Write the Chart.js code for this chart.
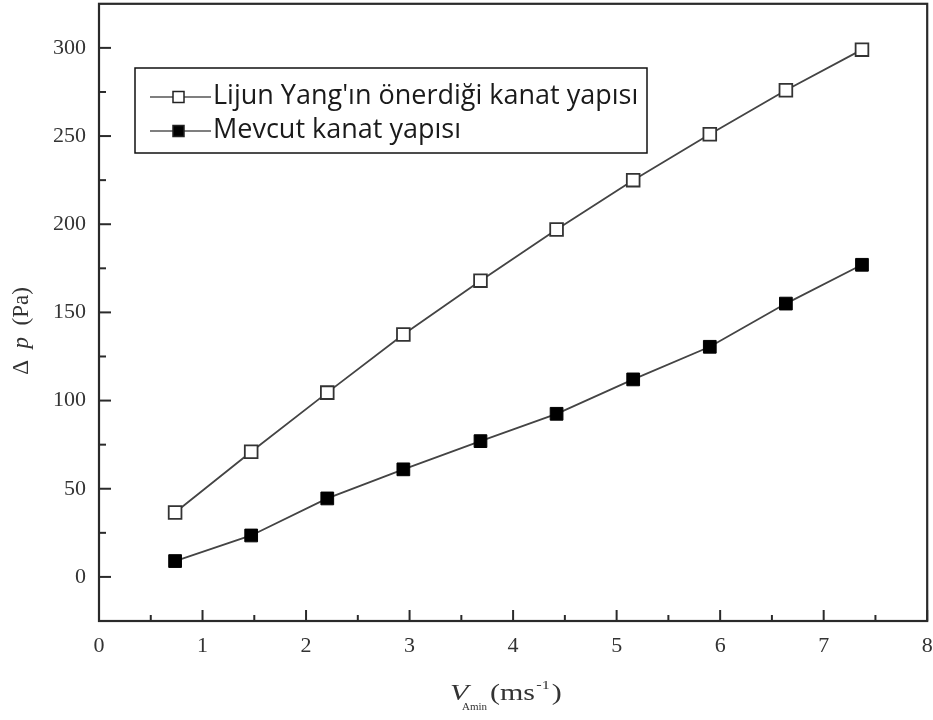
<!DOCTYPE html>
<html>
<head>
<meta charset="utf-8">
<script src="https://cdn.jsdelivr.net/npm/chart.js@4.4.1/dist/chart.umd.min.js"></script>
<style>
  html, body { margin: 0; padding: 0; background: #fff; }
  #wrap { width: 933px; height: 720px; position: relative; overflow: hidden; }
  #chart { position: absolute; left: 0; top: -7px; }
</style>
</head>
<body>
<div id="wrap"><canvas id="chart" width="938" height="727"></canvas></div>
<script>
// data
const velocity = [0.735, 1.47, 2.205, 2.94, 3.685, 4.42, 5.16, 5.9, 6.635, 7.37];
const yangValues = [36.5, 71, 104.5, 137.5, 168, 197, 225, 251, 276, 299];
const currentValues = [9, 23.5, 44.5, 61, 77, 92.5, 112, 130.5, 155, 177];

const xTicks = [0, 1, 2, 3, 4, 5, 6, 7, 8];
const yTicks = [0, 50, 100, 150, 200, 250, 300];

const seriesNames = ["Lijun Yang'ın önerdiği kanat yapısı", "Mevcut kanat yapısı"];

const ink = "#2a2a2a";
const OFF = 7; // canvas is shifted up by this much

function toPoints(xs, ys) {
    return xs.map((x, i) => ({ x: x, y: ys[i] }));
}

// frame, inward ticks, axis titles and the legend box
const decorPlugin = {
    id: "decor",
    afterDraw(chart) {
        const ctx = chart.ctx;
        const a = chart.chartArea;
        const xs = chart.scales.x;
        const ys = chart.scales.y;

        ctx.save();
        ctx.strokeStyle = ink;
        ctx.lineWidth = 2.2;
        ctx.strokeRect(a.left, a.top, a.right - a.left, a.bottom - a.top);

        // x ticks (major + minor halfway)
        ctx.lineWidth = 2;
        xTicks.forEach((v, i) => {
            const px = xs.getPixelForValue(v);
            ctx.beginPath();
            ctx.moveTo(px, a.bottom);
            ctx.lineTo(px, a.bottom - 11);
            ctx.stroke();
            if (i < xTicks.length - 1) {
                const mx = xs.getPixelForValue((v + xTicks[i + 1]) / 2);
                ctx.beginPath();
                ctx.moveTo(mx, a.bottom);
                ctx.lineTo(mx, a.bottom - 6);
                ctx.stroke();
            }
        });

        // y ticks
        const yMinor = [-25].concat(yTicks.map(v => v + 25));
        yTicks.forEach(v => {
            const py = ys.getPixelForValue(v);
            ctx.beginPath();
            ctx.moveTo(a.left, py);
            ctx.lineTo(a.left + 12, py);
            ctx.stroke();
        });
        yMinor.forEach(v => {
            if (v <= ys.min || v >= ys.max) return;
            const py = ys.getPixelForValue(v);
            ctx.beginPath();
            ctx.moveTo(a.left, py);
            ctx.lineTo(a.left + 7, py);
            ctx.stroke();
        });

        // y title: Δ p (Pa)
        ctx.fillStyle = "#333";
        ctx.textBaseline = "middle";
        ctx.save();
        ctx.translate(22, 331 + OFF);
        ctx.rotate(-Math.PI / 2);
        const p1 = "Δ  ";
        const p2 = "p";
        const p3 = "  (Pa)";
        ctx.font = "23px 'Liberation Serif'";
        const w1 = ctx.measureText(p1).width;
        const w3 = ctx.measureText(p3).width;
        ctx.font = "italic 23px 'Liberation Serif'";
        const w2 = ctx.measureText(p2).width;
        let sx = -(w1 + w2 + w3) / 2;
        ctx.textAlign = "left";
        ctx.font = "23px 'Liberation Serif'";
        ctx.fillText(p1, sx, 0);
        ctx.font = "italic 23px 'Liberation Serif'";
        ctx.fillText(p2, sx + w1, 0);
        ctx.font = "23px 'Liberation Serif'";
        ctx.fillText(p3, sx + w1 + w2, 0);
        ctx.restore();

        // x title: V_Amin (ms^-1), the source type is wide so stretch it a bit
        ctx.textAlign = "left";
        ctx.textBaseline = "alphabetic";
        const ty = 700 + OFF;
        const sw = 1.25;
        ctx.save();
        ctx.translate(450, ty);
        ctx.scale(sw, 1);
        ctx.font = "italic 24px 'Liberation Serif'";
        ctx.fillText("V", 0, 0);
        ctx.font = "24px 'Liberation Serif'";
        let lx0 = 32;
        ctx.fillText("(ms", lx0, 0);
        lx0 += ctx.measureText("(ms").width + 1;
        ctx.font = "13px 'Liberation Serif'";
        ctx.fillText("-1", lx0, -11);
        lx0 += ctx.measureText("-1").width + 1.5;
        ctx.font = "24px 'Liberation Serif'";
        ctx.fillText(")", lx0, 0);
        ctx.restore();
        ctx.font = "11px 'Liberation Serif'";
        ctx.fillText("Amin", 462, ty + 10);

        // legend
        const lx = 135, ly = 68 + OFF, lw = 512, lh = 85;
        ctx.fillStyle = "#fff";
        ctx.fillRect(lx, ly, lw, lh);
        ctx.strokeStyle = "#111";
        ctx.lineWidth = 1.5;
        ctx.strokeRect(lx, ly, lw, lh);
        const rows = [ly + 29, ly + 63];
        chart.data.datasets.forEach((ds, i) => {
            const ry = rows[i];
            ctx.strokeStyle = "#555";
            ctx.lineWidth = 1.5;
            ctx.beginPath();
            ctx.moveTo(150, ry);
            ctx.lineTo(211, ry);
            ctx.stroke();
            ctx.fillStyle = ds.pointBackgroundColor;
            ctx.fillRect(173, ry - 5.5, 11, 11);
            ctx.strokeStyle = "#222";
            ctx.lineWidth = 1.5;
            ctx.strokeRect(173, ry - 5.5, 11, 11);
            ctx.fillStyle = "#1a1a1a";
            ctx.font = "27px 'Open Sans'";
            ctx.textAlign = "left";
            ctx.textBaseline = "middle";
            ctx.fillText(ds.label, 213, ry - 1);
        });

        ctx.restore();
    }
};

new Chart(document.getElementById("chart"), {
    type: "scatter",
    data: {
        datasets: [
            {
                label: seriesNames[0],
                data: toPoints(velocity, yangValues),
                showLine: true,
                borderColor: "#444",
                borderWidth: 1.8,
                pointStyle: "rect",
                pointRadius: 9,
                pointBorderWidth: 1.8,
                pointBorderColor: "#333",
                pointBackgroundColor: "#fff"
            },
            {
                label: seriesNames[1],
                data: toPoints(velocity, currentValues),
                showLine: true,
                borderColor: "#444",
                borderWidth: 1.8,
                pointStyle: "rect",
                pointRadius: 9,
                pointBorderWidth: 1,
                pointBorderColor: "#000",
                pointBackgroundColor: "#000"
            }
        ]
    },
    options: {
        responsive: false,
        animation: false,
        layout: { padding: { top: 4, right: 7, left: 0, bottom: 0 } },
        plugins: {
            legend: { display: false },
            tooltip: { enabled: false }
        },
        scales: {
            x: {
                type: "linear",
                min: 0,
                max: 8,
                afterBuildTicks: scale => { scale.ticks = xTicks.map(v => ({ value: v })); },
                afterFit: scale => {
                    scale.height = 99;
                    scale.paddingLeft = 0;
                    scale.paddingRight = 0;
                },
                grid: { display: false, drawTicks: false },
                border: { display: false },
                ticks: {
                    padding: 12,
                    color: "#333",
                    font: { family: "'Liberation Serif'", size: 22 }
                }
            },
            y: {
                min: -25,
                max: 325,
                afterBuildTicks: scale => { scale.ticks = yTicks.map(v => ({ value: v })); },
                afterFit: scale => {
                    scale.width = 99;
                    scale.paddingTop = 0;
                    scale.paddingBottom = 0;
                },
                grid: { display: false, drawTicks: false },
                border: { display: false },
                ticks: {
                    padding: 13,
                    color: "#333",
                    font: { family: "'Liberation Serif'", size: 22 }
                }
            }
        }
    },
    plugins: [decorPlugin]
});
</script>
</body>
</html>
